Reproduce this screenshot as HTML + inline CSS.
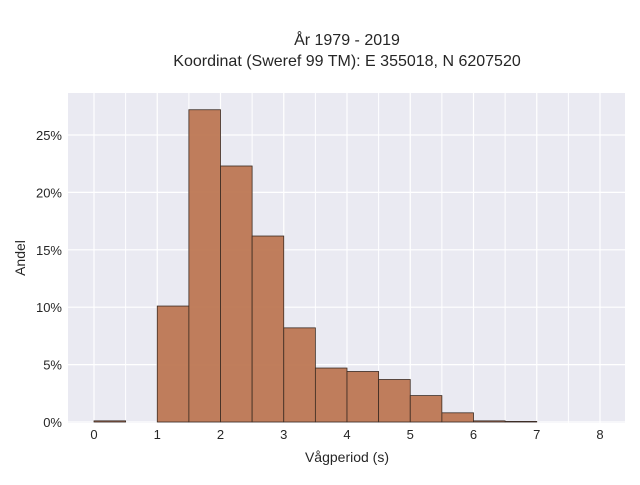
<!DOCTYPE html>
<html><head><meta charset="utf-8"><style>
body{margin:0;background:#fff;font-family:"Liberation Sans",sans-serif}
</style></head><body>
<svg width="640" height="480" xmlns="http://www.w3.org/2000/svg" font-family="Liberation Sans, sans-serif">
<text x="347" y="45" text-anchor="middle" font-size="16" fill="#262626">År 1979 - 2019</text>
<text x="347" y="66" text-anchor="middle" font-size="16" fill="#262626">Koordinat (Sweref 99 TM): E 355018, N 6207520</text>
<rect x="68" y="93" width="557" height="330" fill="#eaeaf2"/>
<g id="grid"></g><g id="bars"></g><g id="axes"></g>
<text x="347" y="462" text-anchor="middle" font-size="14" fill="#262626">Vågperiod (s)</text>
<text transform="translate(25,258) rotate(-90)" text-anchor="middle" font-size="14" fill="#262626">Andel</text>
</svg>
<script>
const binStarts=[0,0.5,1,1.5,2,2.5,3,3.5,4,4.5,5,5.5,6,6.5];
const shares=[0.1,0,10.1,27.2,22.3,16.2,8.2,4.7,4.4,3.7,2.3,0.8,0.1,0.05];
const xTicks=[0,1,2,3,4,5,6,7,8];
const yTicks=[0,5,10,15,20,25];
const binWidth=0.5;
const NS="http://www.w3.org/2000/svg";
const xs=v=>94+v*63.25, ys=v=>422-v*11.48;
const grid=document.getElementById('grid'),bars=document.getElementById('bars'),axes=document.getElementById('axes');
function mk(tag,attrs,parent){const e=document.createElementNS(NS,tag);for(const k in attrs)e.setAttribute(k,attrs[k]);parent.appendChild(e);return e;}
for(let v=0;v<=8.5;v+=0.5){const l=mk('line',{x1:xs(v),x2:xs(v),y1:93,y2:423,stroke:'#fff','stroke-width':v%1?1:1.2},grid);

}
yTicks.forEach(t=>{const l=mk('line',{x1:68,x2:625,y1:ys(t),y2:ys(t),stroke:'#fff','stroke-width':1.2},grid);


const tx=mk('text',{x:62,y:ys(t)+5,'text-anchor':'end','font-size':13,fill:'#262626'},axes);tx.textContent=t+'%';

});
xTicks.forEach(t=>{const tx=mk('text',{x:xs(t),y:439,'text-anchor':'middle','font-size':13,fill:'#262626'},axes);tx.textContent=t;

});
binStarts.forEach((b,i)=>{const v=shares[i];if(v<=0)return;const y=ys(v);
const r=mk('rect',{x:xs(b),y:y,width:xs(b+binWidth)-xs(b),height:422-y,fill:'#bd7753','fill-opacity':0.95,stroke:'#3a2a22','stroke-width':0.8},bars);

});
</script>
</body></html>
